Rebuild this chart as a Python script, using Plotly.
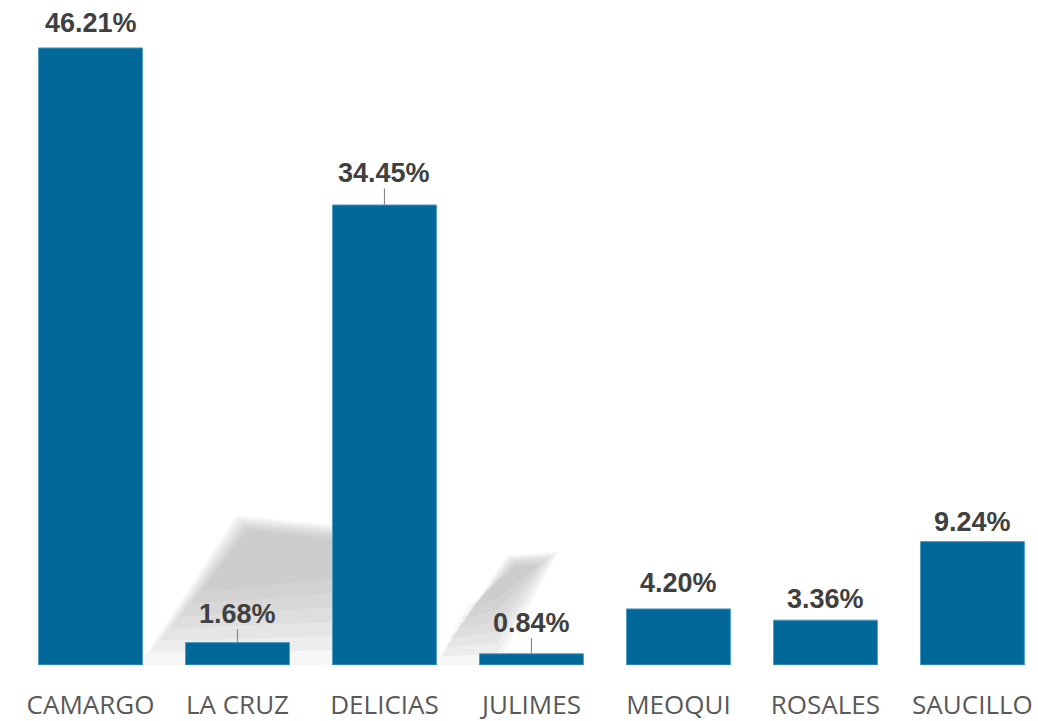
import plotly.graph_objects as go

categories = ["CAMARGO", "LA CRUZ", "DELICIAS", "JULIMES", "MEOQUI", "ROSALES", "SAUCILLO"]
values = [46.21, 1.68, 34.45, 0.84, 4.20, 3.36, 9.24]
labels = ["46.21%", "1.68%", "34.45%", "0.84%", "4.20%", "3.36%", "9.24%"]

# label placement (pixels above bar top) and whether a leader line is drawn
label_offset = [-25, -29, -32, -31, -26, -21, -20]
leader = [False, True, True, True, False, False, False]

BAR = "#02689A"

fig = go.Figure()
fig.add_trace(go.Bar(
    x=categories, y=values,
    marker=dict(color=BAR, line=dict(color="#4f9cc4", width=1)),
    hoverinfo="skip",
))

for c, v, t, off, ld in zip(categories, values, labels, label_offset, leader):
    fig.add_annotation(
        x=c, y=v, xref="x", yref="y", text=f"<b>{t}</b>",
        showarrow=True, arrowhead=0, arrowwidth=1.2,
        arrowcolor="#8a8a8a" if ld else "rgba(0,0,0,0)",
        ax=0, ay=off, standoff=0, borderpad=0,
        font=dict(family="Liberation Sans, Arial", size=27, color="#404040"),
    )

# faint decorative shadows behind the bars (paper coordinates), blended between
# an outer and an inner outline to give a soft edge
shadow_outer = [
    [(0.12, 0.0), (0.215, 0.225), (0.31, 0.21), (0.31, 0.0)],
    [(0.41, 0.0), (0.48, 0.165), (0.53, 0.17), (0.47, 0.0)],
]
shadow_inner = [
    [(0.18, 0.11), (0.226, 0.203), (0.31, 0.19), (0.31, 0.13)],
    [(0.435, 0.08), (0.49, 0.15), (0.51, 0.15), (0.47, 0.1)],
]
steps = 7
for outer, inner in zip(shadow_outer, shadow_inner):
    for k in range(steps):
        f = k / (steps - 1)
        pts = [(ox + (ix - ox) * f, oy + (iy - oy) * f) for (ox, oy), (ix, iy) in zip(outer, inner)]
        path = "M " + " L ".join(f"{px:.4f},{py:.4f}" for px, py in pts) + " Z"
        fig.add_shape(type="path", path=path, xref="paper", yref="paper",
                      fillcolor="rgba(150,150,150,0.09)", line=dict(width=0), layer="below")

fig.update_layout(
    width=1038, height=721,
    margin=dict(l=17, r=0, t=0, b=56),
    paper_bgcolor="white", plot_bgcolor="rgba(0,0,0,0)",
    bargap=0.293,
    showlegend=False,
    xaxis=dict(
        range=[-0.5, 6.446], showgrid=False, zeroline=False, showline=False,
        automargin=False,
        ticks="outside", ticklen=17, tickcolor="rgba(0,0,0,0)",
        tickfont=dict(family="Open Sans", size=26, color="#595959"),
    ),
    yaxis=dict(range=[0, 49.80], visible=False, showgrid=False, zeroline=False,
               automargin=False),
)

fig.write_html(
    "out.html",
    config={"displayModeBar": False},
    post_script="document.body.style.margin='0';document.body.style.overflow='hidden';",
)
